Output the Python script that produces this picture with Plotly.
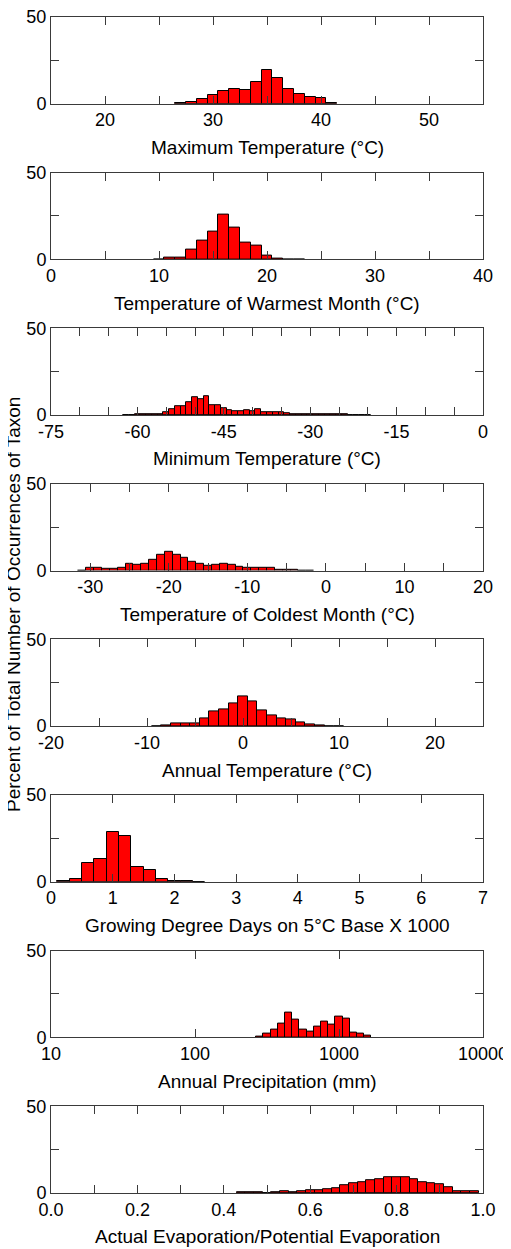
import plotly.graph_objects as go

# ---------------- data (percent of occurrences per bin) ----------------
max_temp_bins = [27, 28, 29, 30, 31, 32, 33, 34, 35, 36, 37, 38, 39, 40, 41]
max_temp_pct = [0.2, 0.8, 2.7, 5.0, 7.5, 8.5, 7.7, 12.7, 19.4, 15.0, 8.5, 5.4, 3.8, 3.1, 0.4]

warm_bins = [10, 11, 12, 13, 14, 15, 16, 17, 18, 19, 20, 21, 22, 23]
warm_pct = [0.1, 0.8, 1.0, 5.8, 10.9, 15.7, 26.0, 18.4, 9.9, 7.8, 1.9, 0.4, 0.0, 0.1]

min_temp_bins = [-62, -61, -60, -59, -58, -57, -56, -55, -54, -53, -52, -51, -50, -49,
                 -48, -47, -46, -45, -44, -43, -42, -41, -40, -39, -38, -37, -36, -35,
                 -34, -33, -32, -31, -30, -29, -28, -27, -26, -25, -24, -23, -22, -21, -20]
min_temp_pct = [0.1, 0.1, 0.2, 0.2, 0.3, 0.6, 0.6, 1.4, 3.1, 4.8, 5.0, 7.6, 10.1, 9.1,
                11.0, 5.8, 5.8, 3.9, 2.7, 1.9, 1.9, 2.5, 2.1, 3.1, 1.7, 1.4, 1.4, 1.6,
                0.8, 0.6, 0.3, 0.2, 0.3, 0.4, 0.2, 0.2, 0.4, 0.2, 0.2, 0.1, 0.1, 0.1, 0.1]

cold_bins = [-31, -30, -29, -28, -27, -26, -25, -24, -23, -22, -21, -20, -19, -18, -17,
             -16, -15, -14, -13, -12, -11, -10, -9, -8, -7, -6, -5, -4, -3, -2]
cold_pct = [0.1, 1.6, 1.6, 1.2, 1.0, 1.6, 3.7, 3.3, 3.7, 6.2, 8.8, 10.9, 9.1, 7.2, 5.3,
            4.1, 2.9, 3.3, 3.9, 3.3, 2.3, 1.6, 1.6, 1.4, 1.4, 0.6, 0.4, 0.2, 0.1, 0.1]

annual_bins = [-9, -8, -7, -6, -5, -4, -3, -2, -1, 0, 1, 2, 3, 4, 5, 6, 7, 8, 9, 10]
annual_pct = [0.1, 0.6, 1.6, 1.6, 1.7, 4.5, 8.3, 9.5, 13.0, 17.2, 14.5, 9.3, 6.0, 4.5,
              3.7, 1.9, 1.0, 0.2, 0.1, 0.1]

gdd_bins = [0.2, 0.4, 0.6, 0.8, 1.0, 1.2, 1.4, 1.6, 1.8, 2.0, 2.2, 2.4]
gdd_pct = [0.2, 1.7, 11.0, 13.3, 28.6, 26.6, 8.3, 6.6, 1.4, 0.6, 0.2, 0.1]

# precipitation bins given as log10(mm) centres
precip_log_bins = [2.45, 2.50, 2.55, 2.60, 2.65, 2.70, 2.75, 2.80, 2.85, 2.90, 2.95,
                   3.00, 3.05, 3.10, 3.15, 3.20]
precip_pct = [0.2, 2.3, 4.6, 8.1, 14.1, 10.2, 4.6, 3.3, 6.4, 9.1, 7.3, 11.8, 10.8, 2.9, 2.1, 1.0]

aet_bins = [0.44, 0.46, 0.48, 0.50, 0.52, 0.54, 0.56, 0.58, 0.60, 0.62, 0.64, 0.66, 0.68, 0.70,
            0.72, 0.74, 0.76, 0.78, 0.80, 0.82, 0.84, 0.86, 0.88, 0.90, 0.92, 0.94, 0.96, 0.98]
aet_pct = [0.2, 0.2, 0.2, 0.1, 0.4, 0.8, 0.4, 1.0, 1.4, 1.7, 2.3, 2.7, 4.3, 5.4,
           6.2, 7.2, 8.1, 9.3, 9.3, 9.1, 8.1, 6.4, 5.4, 4.8, 3.3, 1.2, 1.0, 0.8]

titles = [
    "Maximum Temperature (°C)",
    "Temperature of Warmest Month (°C)",
    "Minimum Temperature (°C)",
    "Temperature of Coldest Month (°C)",
    "Annual Temperature (°C)",
    "Growing Degree Days on 5°C Base X 1000",
    "Annual Precipitation (mm)",
    "Actual Evaporation/Potential Evaporation",
]

# tick definitions: (tick values, tick labels)
tick_defs = [
    ([15, 20, 25, 30, 35, 40, 45, 50, 55], ["", "20", "", "30", "", "40", "", "50", ""]),
    ([0, 5, 10, 15, 20, 25, 30, 35, 40], ["0", "", "10", "", "20", "", "30", "", "40"]),
    ([-75, -70, -65, -60, -55, -50, -45, -40, -35, -30, -25, -20, -15, -10, -5, 0],
     ["-75", "", "", "-60", "", "", "-45", "", "", "-30", "", "", "-15", "", "", "0"]),
    ([-35, -30, -25, -20, -15, -10, -5, 0, 5, 10, 15, 20],
     ["", "-30", "", "-20", "", "-10", "", "0", "", "10", "", "20"]),
    ([-20, -15, -10, -5, 0, 5, 10, 15, 20, 25],
     ["-20", "", "-10", "", "0", "", "10", "", "20", ""]),
    ([0, 1, 2, 3, 4, 5, 6, 7], ["0", "1", "2", "3", "4", "5", "6", "7"]),
    ([1, 2, 3, 4], ["10", "100", "1000", "10000"]),
    ([0, 0.1, 0.2, 0.3, 0.4, 0.5, 0.6, 0.7, 0.8, 0.9, 1.0],
     ["0.0", "", "0.2", "", "0.4", "", "0.6", "", "0.8", "", "1.0"]),
]
x_ranges = [[15, 55], [0, 40], [-75, 0], [-35, 20], [-20, 25], [0, 7], [1, 4], [0, 1]]
bin_widths = [1, 1, 1, 1, 1, 0.2, 0.05, 0.02]

series = [
    (max_temp_bins, max_temp_pct),
    (warm_bins, warm_pct),
    (min_temp_bins, min_temp_pct),
    (cold_bins, cold_pct),
    (annual_bins, annual_pct),
    (gdd_bins, gdd_pct),
    (precip_log_bins, precip_pct),
    (aet_bins, aet_pct),
]

y_ticks = [0, 25, 50]
y_ticktext = ["0", "", "50"]

# ---------------- layout geometry ----------------
# the page body has an 8px margin; the figure is sized so it ends at the window edge
W, H = 503, 1241
m_l, m_r, m_t, m_b = 43, 28, 9, 56
plot_h_px = H - m_t - m_b
plot_w_px = W - m_l - m_r
panel_h = 86.7
panel_step = 155.6

FONT = "Liberation Sans, Arial, Helvetica, sans-serif"
frame = "#3a3a3a"

fig = go.Figure()
layout = dict(
    width=W, height=H, autosize=False,
    margin=dict(l=m_l, r=m_r, t=m_t, b=m_b, pad=0, autoexpand=False),
    paper_bgcolor="white", plot_bgcolor="white",
    showlegend=False,
    bargap=0,
    font=dict(family=FONT, size=18, color="black"),
)
annotations = []

for i, ((bx, by), title, (tv, tt), xr, bw) in enumerate(
        zip(series, titles, tick_defs, x_ranges, bin_widths)):
    n = i + 1
    xa = "x" if n == 1 else f"x{n}"
    ya = "y" if n == 1 else f"y{n}"
    top_px = i * panel_step
    bot_px = top_px + panel_h
    dom = [max(0, 1 - bot_px / plot_h_px), 1 - top_px / plot_h_px]

    fig.add_trace(go.Bar(
        x=bx, y=by, width=bw,
        marker=dict(color="#ff0000", line=dict(color="black", width=1)),
        xaxis=xa, yaxis=ya, hoverinfo="x+y",
    ))

    layout["xaxis" if n == 1 else f"xaxis{n}"] = dict(
        domain=[0, 1], anchor=ya, range=xr, automargin=False,
        ticklabeloverflow="allow",
        tickmode="array", tickvals=tv, ticktext=tt,
        ticks="inside", ticklen=8, tickwidth=1, tickcolor=frame,
        showline=True, linecolor=frame, linewidth=1, mirror="ticks",
        showgrid=False, zeroline=False,
        tickfont=dict(size=18, family=FONT, color="black"),
    )
    layout["yaxis" if n == 1 else f"yaxis{n}"] = dict(
        domain=dom, anchor=xa, range=[0, 50], automargin=False,
        ticklabeloverflow="allow",
        tickmode="array", tickvals=y_ticks, ticktext=y_ticktext,
        ticks="inside", ticklen=8, tickwidth=1, tickcolor=frame,
        showline=True, linecolor=frame, linewidth=1, mirror="ticks",
        showgrid=False, zeroline=False,
        tickfont=dict(size=18, family=FONT, color="black"),
    )
    annotations.append(dict(
        text=title, showarrow=False,
        xref="paper", x=0.5, xanchor="center",
        yref=f"{ya} domain", y=0, yanchor="middle", yshift=-44,
        font=dict(size=19, family=FONT, color="black"),
    ))

annotations.append(dict(
    text="Percent of Total Number of Occurrences of Taxon", showarrow=False,
    textangle=-90,
    xref="paper", x=(5 - m_l) / plot_w_px, xanchor="center",
    yref="paper", y=0.5, yanchor="middle",
    font=dict(size=19, family=FONT, color="black"),
))
layout["annotations"] = annotations

fig.update_layout(**layout)
fig.write_html("out.html")
